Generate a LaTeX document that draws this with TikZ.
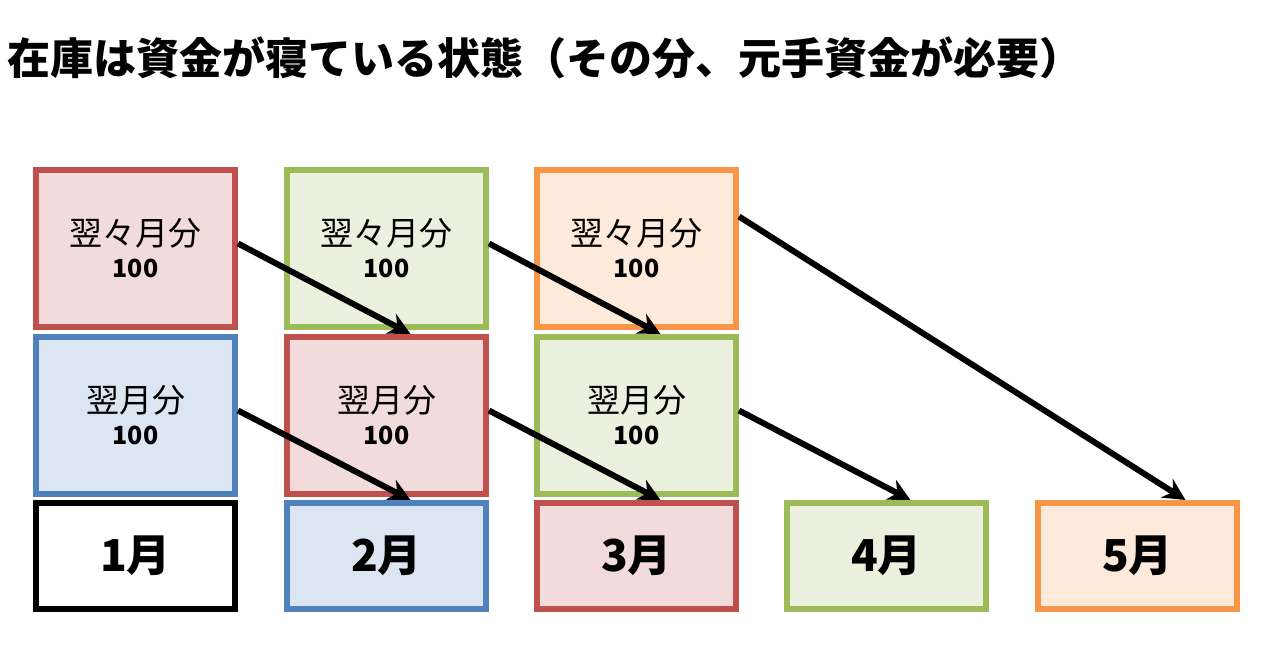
\documentclass[tikz,border=0pt]{standalone}
\usepackage{fontspec}
\newfontfamily\jp{Noto Sans CJK JP}
\usetikzlibrary{arrows.meta}
\definecolor{redline}{HTML}{C0504D}\definecolor{redfill}{HTML}{F2DCDB}
\definecolor{blueline}{HTML}{4F81BD}\definecolor{bluefill}{HTML}{DCE6F2}
\definecolor{greenline}{HTML}{9BBB59}\definecolor{greenfill}{HTML}{EBF1DE}
\definecolor{orangeline}{HTML}{F79646}\definecolor{orangefill}{HTML}{FDEADA}
\definecolor{blackline}{HTML}{000000}\definecolor{blackfill}{HTML}{FFFFFF}
\tikzset{
  stock/.style={draw=#1line, fill=#1fill, line width=6pt, minimum width=199pt,
    minimum height=157pt, align=center, font=\jp\fontsize{33}{40}\selectfont},
  month/.style={draw=#1line, fill=#1fill, line width=6pt, minimum width=199pt,
    minimum height=106pt, font=\jp\bfseries\fontsize{44}{50}\selectfont},
  flow/.style={-{Stealth[length=22pt,width=22pt]}, line width=6pt}
}
\newcommand{\amt}{\\[-8pt]{\bfseries\fontsize{25}{30}\selectfont 100}}
\begin{document}
\begin{tikzpicture}[x=1pt,y=-1pt]
\useasboundingbox (0,0) rectangle (1280,670);
\node[anchor=west, font=\jp\bfseries\fontsize{43}{50}\selectfont] (title) at (4,58)
  {在庫は資金が寝ている状態（その分、元手資金が必要）};
% column 1
\node[stock=red] (t1) at (135.5,248.5) {翌々月分\amt};
\node[stock=blue] (m1) at (135.5,415.5) {翌月分\amt};
\node[month=black] (b1) at (135.5,556) {1月};
% column 2
\node[stock=green] (t2) at (386.5,248.5) {翌々月分\amt};
\node[stock=red] (m2) at (386.5,415.5) {翌月分\amt};
\node[month=blue] (b2) at (386.5,556) {2月};
% column 3
\node[stock=orange] (t3) at (636.5,248.5) {翌々月分\amt};
\node[stock=green] (m3) at (636.5,415.5) {翌月分\amt};
\node[month=red] (b3) at (636.5,556) {3月};
% columns 4 and 5
\node[month=green] (b4) at (886.5,556) {4月};
\node[month=orange] (b5) at (1137.5,556) {5月};
% arrows
\draw[flow] ([yshift=5pt]t1.east) -- ([xshift=24pt]m2.north);
\draw[flow] ([yshift=5pt]m1.east) -- ([xshift=24pt]b2.north);
\draw[flow] ([yshift=5pt]t2.east) -- ([xshift=24pt]m3.north);
\draw[flow] ([yshift=5pt]m2.east) -- ([xshift=24pt]b3.north);
\draw[flow] ([yshift=32pt]t3.east) -- ([xshift=48pt]b5.north);
\draw[flow] ([yshift=5pt]m3.east) -- ([xshift=24pt]b4.north);
\end{tikzpicture}
\end{document}
